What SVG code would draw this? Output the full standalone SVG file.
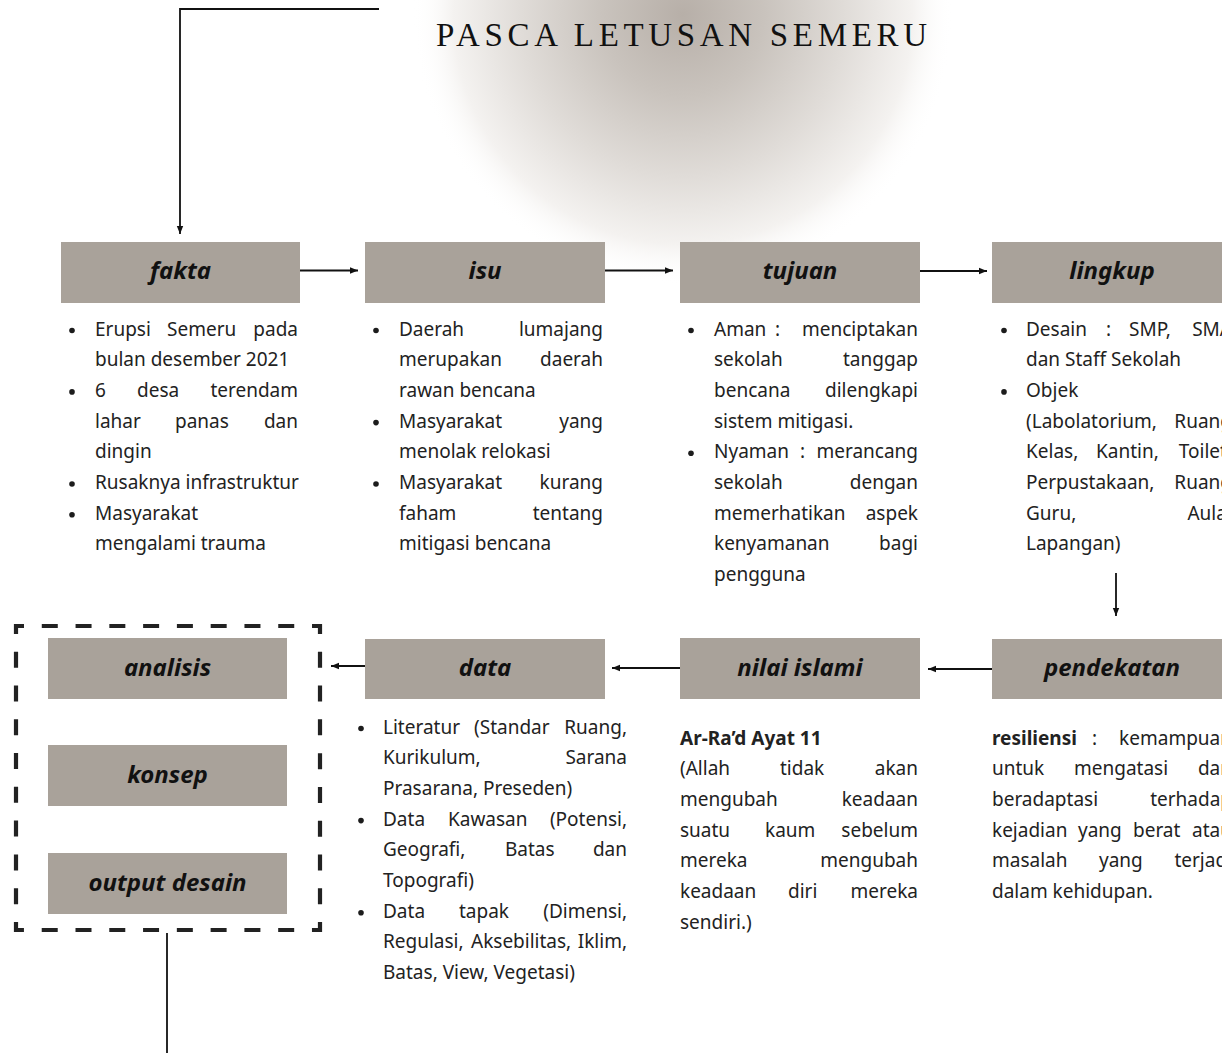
<svg xmlns="http://www.w3.org/2000/svg" width="1222" height="1057" viewBox="0 0 1222 1057">
<defs>
<radialGradient id="glow" cx="683" cy="15" r="270" gradientUnits="userSpaceOnUse">
<stop offset="0" stop-color="#b7afa8"/>
<stop offset="0.3" stop-color="#c9c3bd"/>
<stop offset="0.6" stop-color="#e0dcd8"/>
<stop offset="0.85" stop-color="#f4f2f0"/>
<stop offset="1" stop-color="#ffffff" stop-opacity="0"/>
</radialGradient>
<marker id="ah" markerUnits="userSpaceOnUse" markerWidth="8" markerHeight="8" refX="8" refY="4" orient="auto">
<path d="M0,0.8 L8,4 L0,7.2 z" fill="#111"/>
</marker>
<style>
.box{fill:#a9a29a}
.h{font-family:"Noto Sans","DejaVu Sans",sans-serif;font-weight:700;font-style:italic;font-size:24px;fill:#111;text-anchor:middle}
.b{font-family:"Noto Sans","DejaVu Sans",sans-serif;font-size:19px;fill:#222}
.e{text-anchor:end}
.bb{font-weight:700}
.dot{fill:#1c1c1c}
.con{fill:none;stroke:#111;stroke-width:1.8}
</style>
</defs>
<rect width="1222" height="1057" fill="#ffffff"/>
<circle cx="683" cy="15" r="270" fill="url(#glow)"/>
<text x="436" y="46" textLength="491" lengthAdjust="spacing" font-family="'Liberation Serif',serif" font-size="33" fill="#111">PASCA LETUSAN SEMERU</text>

<g id="connectors">
<path class="con" d="M379,9 H180 V234" marker-end="url(#ah)"/>
<path class="con" d="M300,270.5 H358" marker-end="url(#ah)"/>
<path class="con" d="M605,270.5 H673" marker-end="url(#ah)"/>
<path class="con" d="M920,271 H987" marker-end="url(#ah)"/>
<path class="con" d="M1116,573 V616" marker-end="url(#ah)"/>
<path class="con" d="M992,669 H928" marker-end="url(#ah)"/>
<path class="con" d="M680,668 H612" marker-end="url(#ah)"/>
<path class="con" d="M365,666 H331" marker-end="url(#ah)"/>
<path class="con" d="M167,933 V1053"/>
</g>

<g id="fakta">
<rect class="box" x="61" y="242" width="239" height="61"/>
<text class="h" x="180.5" y="279">fakta</text>
<circle class="dot" cx="72" cy="330.5" r="2.8"/>
<circle class="dot" cx="72" cy="391.9" r="2.8"/>
<circle class="dot" cx="72" cy="484" r="2.8"/>
<circle class="dot" cx="72" cy="514.7" r="2.8"/>
<text class="b" x="95" y="335.5">Erupsi</text><text class="b" x="167" y="335.5">Semeru</text><text class="b e" x="298" y="335.5">pada</text>
<text class="b" x="95" y="366.2">bulan desember 2021</text>
<text class="b" x="95" y="396.9">6</text><text class="b" x="137" y="396.9">desa</text><text class="b e" x="298" y="396.9">terendam</text>
<text class="b" x="95" y="427.6">lahar</text><text class="b" x="175" y="427.6">panas</text><text class="b e" x="298" y="427.6">dan</text>
<text class="b" x="95" y="458.3">dingin</text>
<text class="b" x="95" y="489">Rusaknya infrastruktur</text>
<text class="b" x="95" y="519.7">Masyarakat</text>
<text class="b" x="95" y="550.4">mengalami trauma</text>
</g>

<g id="isu">
<rect class="box" x="365" y="242" width="240" height="61"/>
<text class="h" x="485" y="279">isu</text>
<circle class="dot" cx="376" cy="330.5" r="2.8"/>
<circle class="dot" cx="376" cy="422.6" r="2.8"/>
<circle class="dot" cx="376" cy="484" r="2.8"/>
<text class="b" x="399" y="335.5">Daerah</text><text class="b e" x="603" y="335.5">lumajang</text>
<text class="b" x="399" y="366.2">merupakan</text><text class="b e" x="603" y="366.2">daerah</text>
<text class="b" x="399" y="396.9">rawan bencana</text>
<text class="b" x="399" y="427.6">Masyarakat</text><text class="b e" x="603" y="427.6">yang</text>
<text class="b" x="399" y="458.3">menolak relokasi</text>
<text class="b" x="399" y="489">Masyarakat</text><text class="b e" x="603" y="489">kurang</text>
<text class="b" x="399" y="519.7">faham</text><text class="b e" x="603" y="519.7">tentang</text>
<text class="b" x="399" y="550.4">mitigasi bencana</text>
</g>

<g id="tujuan">
<rect class="box" x="680" y="242" width="240" height="61"/>
<text class="h" x="800" y="279">tujuan</text>
<circle class="dot" cx="691" cy="330.5" r="2.8"/>
<circle class="dot" cx="691" cy="453.3" r="2.8"/>
<text class="b" x="714" y="335.5">Aman</text><text class="b" x="775" y="335.5">:</text><text class="b e" x="918" y="335.5">menciptakan</text>
<text class="b" x="714" y="366.2">sekolah</text><text class="b e" x="918" y="366.2">tanggap</text>
<text class="b" x="714" y="396.9">bencana</text><text class="b e" x="918" y="396.9">dilengkapi</text>
<text class="b" x="714" y="427.6">sistem mitigasi.</text>
<text class="b" x="714" y="458.3">Nyaman</text><text class="b" x="800" y="458.3">:</text><text class="b e" x="918" y="458.3">merancang</text>
<text class="b" x="714" y="489">sekolah</text><text class="b e" x="918" y="489">dengan</text>
<text class="b" x="714" y="519.7">memerhatikan</text><text class="b e" x="918" y="519.7">aspek</text>
<text class="b" x="714" y="550.4">kenyamanan</text><text class="b e" x="918" y="550.4">bagi</text>
<text class="b" x="714" y="581.1">pengguna</text>
</g>

<g id="lingkup">
<rect class="box" x="992" y="242" width="240" height="61"/>
<text class="h" x="1112" y="279">lingkup</text>
<circle class="dot" cx="1004" cy="330.5" r="2.8"/>
<circle class="dot" cx="1004" cy="391.9" r="2.8"/>
<text class="b" x="1026" y="335.5">Desain</text><text class="b" x="1106" y="335.5">:</text><text class="b" x="1129" y="335.5">SMP,</text><text class="b e" x="1232" y="335.5">SMA</text>
<text class="b" x="1026" y="366.2">dan Staff Sekolah</text>
<text class="b" x="1026" y="396.9">Objek</text>
<text class="b" x="1026" y="427.6">(Labolatorium,</text><text class="b e" x="1232" y="427.6">Ruang</text>
<text class="b" x="1026" y="458.3">Kelas,</text><text class="b" x="1096" y="458.3">Kantin,</text><text class="b e" x="1232" y="458.3">Toilet,</text>
<text class="b" x="1026" y="489">Perpustakaan,</text><text class="b e" x="1232" y="489">Ruang</text>
<text class="b" x="1026" y="519.7">Guru,</text><text class="b e" x="1232" y="519.7">Aula,</text>
<text class="b" x="1026" y="550.4">Lapangan)</text>
</g>

<g id="pendekatan">
<rect class="box" x="992" y="639" width="240" height="60"/>
<text class="h" x="1112" y="676">pendekatan</text>
<text class="b bb" x="992" y="744.5">resiliensi</text><text class="b" x="1092" y="744.5">:</text><text class="b e" x="1232" y="744.5">kemampuan</text>
<text class="b" x="992" y="775.2">untuk</text><text class="b" x="1074" y="775.2">mengatasi</text><text class="b e" x="1232" y="775.2">dan</text>
<text class="b" x="992" y="805.9">beradaptasi</text><text class="b e" x="1232" y="805.9">terhadap</text>
<text class="b" x="992" y="836.6">kejadian</text><text class="b" x="1078" y="836.6">yang</text><text class="b" x="1133" y="836.6">berat</text><text class="b e" x="1232" y="836.6">atau</text>
<text class="b" x="992" y="867.3">masalah</text><text class="b" x="1099" y="867.3">yang</text><text class="b e" x="1232" y="867.3">terjadi</text>
<text class="b" x="992" y="898">dalam kehidupan.</text>
</g>

<g id="nilai-islami">
<rect class="box" x="680" y="638" width="240" height="61"/>
<text class="h" x="800" y="676">nilai islami</text>
<text class="b bb" x="680" y="744.5">Ar-Ra’d Ayat 11</text>
<text class="b" x="680" y="775.2">(Allah</text><text class="b" x="780" y="775.2">tidak</text><text class="b e" x="918" y="775.2">akan</text>
<text class="b" x="680" y="805.9">mengubah</text><text class="b e" x="918" y="805.9">keadaan</text>
<text class="b" x="680" y="836.6">suatu</text><text class="b" x="765" y="836.6">kaum</text><text class="b e" x="918" y="836.6">sebelum</text>
<text class="b" x="680" y="867.3">mereka</text><text class="b e" x="918" y="867.3">mengubah</text>
<text class="b" x="680" y="898">keadaan</text><text class="b" x="788" y="898">diri</text><text class="b e" x="918" y="898">mereka</text>
<text class="b" x="680" y="928.7">sendiri.)</text>
</g>

<g id="data">
<rect class="box" x="365" y="639" width="240" height="60"/>
<text class="h" x="485" y="676">data</text>
<circle class="dot" cx="361" cy="728.5" r="2.8"/>
<circle class="dot" cx="361" cy="820.6" r="2.8"/>
<circle class="dot" cx="361" cy="912.7" r="2.8"/>
<text class="b" x="383" y="733.5">Literatur</text><text class="b" x="474" y="733.5">(Standar</text><text class="b e" x="627" y="733.5">Ruang,</text>
<text class="b" x="383" y="764.2">Kurikulum,</text><text class="b e" x="627" y="764.2">Sarana</text>
<text class="b" x="383" y="794.9">Prasarana, Preseden)</text>
<text class="b" x="383" y="825.6">Data</text><text class="b" x="448" y="825.6">Kawasan</text><text class="b e" x="627" y="825.6">(Potensi,</text>
<text class="b" x="383" y="856.3">Geografi,</text><text class="b" x="505" y="856.3">Batas</text><text class="b e" x="627" y="856.3">dan</text>
<text class="b" x="383" y="887">Topografi)</text>
<text class="b" x="383" y="917.7">Data</text><text class="b" x="459" y="917.7">tapak</text><text class="b e" x="627" y="917.7">(Dimensi,</text>
<text class="b" x="383" y="948.4">Regulasi,</text><text class="b" x="471" y="948.4">Aksebilitas,</text><text class="b e" x="627" y="948.4">Iklim,</text>
<text class="b" x="383" y="979.1">Batas, View, Vegetasi)</text>
</g>

<g id="tahap-desain">
<rect x="16" y="626" width="304" height="304" fill="none" stroke="#222" stroke-width="4.2" stroke-dasharray="16 17.78" stroke-dashoffset="8"/>
</g>
<g id="analisis">
<rect class="box" x="48" y="638" width="239" height="61"/>
<text class="h" x="167.5" y="676">analisis</text>
</g>
<g id="konsep">
<rect class="box" x="48" y="745" width="239" height="61"/>
<text class="h" x="167.5" y="783">konsep</text>
</g>
<g id="output-desain">
<rect class="box" x="48" y="853" width="239" height="61"/>
<text class="h" x="167.5" y="891">output desain</text>
</g>
</svg>
